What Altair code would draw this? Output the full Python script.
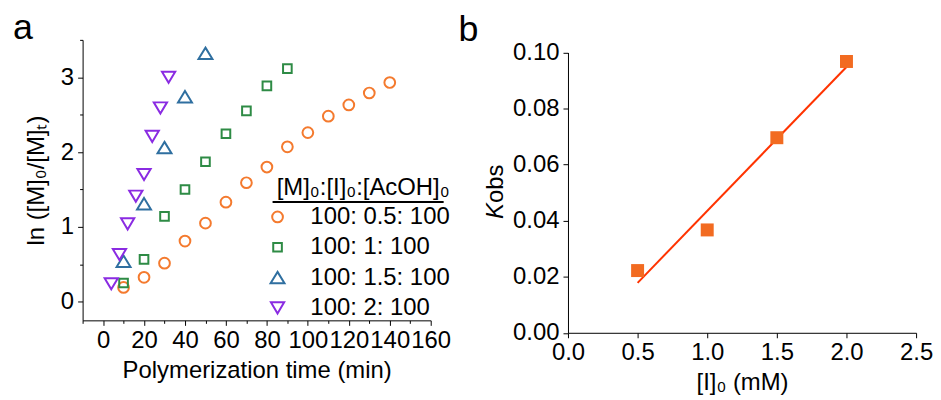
import altair as alt
import pandas as pd

FONT = "Liberation Sans"
FS = 24

# ---------- panel a data ----------
series_names = ["100: 0.5: 100", "100: 1: 100", "100: 1.5: 100", "100: 2: 100"]
series_colors = ["#F47A2E", "#2E8B45", "#2F6FA0", "#8A2BE2"]
# symbol outlines in the unit box [-1, 1] (circle, square, triangle up, triangle down)
series_shapes = [
    "M0.77,0A0.77,0.77 0 1,1 -0.77,0A0.77,0.77 0 1,1 0.77,0Z",
    "M-0.62,-0.62L0.62,-0.62L0.62,0.62L-0.62,0.62Z",
    "M0,-0.82L1,0.82L-1,0.82Z",
    "M0,0.8L0.95,-0.8L-0.95,-0.8Z",
]
SYMBOL_SIZE = 196

t_05 = [10, 20, 30, 40, 50, 60, 70, 80, 90, 100, 110, 120, 130, 140]
y_05 = [0.19, 0.325, 0.515, 0.81, 1.05, 1.33, 1.59, 1.80, 2.07, 2.26, 2.48, 2.63, 2.79, 2.93]
t_1 = [10, 20, 30, 40, 50, 60, 70, 80, 90]
y_1 = [0.25, 0.565, 1.14, 1.50, 1.87, 2.245, 2.55, 2.885, 3.115]
t_15 = [10, 20, 30, 40, 50]
y_15 = [0.54, 1.31, 2.06, 2.74, 3.32]
t_2 = [4, 8, 12, 16, 20, 24, 28, 32]
y_2 = [0.24, 0.63, 1.04, 1.41, 1.70, 2.21, 2.59, 3.00]

# ---------- panel b data ----------
conc_I0 = [0.5, 1.0, 1.5, 2.0]
k_obs = [0.0222, 0.0367, 0.0696, 0.0968]

rows = []
for name, ts, ys in zip(series_names, [t_05, t_1, t_15, t_2], [y_05, y_1, y_15, y_2]):
    for t, y in zip(ts, ys):
        rows.append({"time": t, "lnM": y, "series": name})
df_a = pd.DataFrame(rows)
df_b = pd.DataFrame({"I0": conc_I0, "kobs": k_obs})

def axis_common(**kw):
    base = dict(
        domainColor="black", domainWidth=1, tickColor="black", tickWidth=1,
        labelFont=FONT, labelFontSize=FS, labelColor="black",
        titleFont=FONT, titleFontSize=FS, titleFontWeight="normal", titleColor="black",
        grid=False, labelOverlap=False, labelBound=False, labelFlush=False,
    )
    base.update(kw)
    return alt.Axis(**base)

# ---------- panel a ----------
x_a = alt.X(
    "time:Q",
    scale=alt.Scale(domain=[-10, 160], nice=False, zero=False),
    axis=axis_common(
        title="Polymerization time (min)",
        values=list(range(-10, 161, 10)),
        labelExpr="datum.value % 20 == 0 ? format(datum.value, 'd') : ''",
        tickSize={"condition": {"test": "datum.value % 20 != 0", "value": 3}, "value": 5},
        labelPadding=3, titlePadding=6,
    ),
)
y_a = alt.Y(
    "lnM:Q",
    scale=alt.Scale(domain=[-0.25, 3.5], nice=False, zero=False),
    axis=axis_common(
        title="ln ([M]₀/[M]ₜ)",
        values=[0, 0.5, 1, 1.5, 2, 2.5, 3, 3.5],
        labelExpr="datum.value % 1 == 0 ? format(datum.value, 'd') : ''",
        tickSize={"condition": {"test": "datum.value % 1 != 0", "value": 3}, "value": 5},
        labelPadding=4, titlePadding=12,
    ),
)

points_a = alt.Chart(df_a).mark_point(
    filled=False, strokeWidth=2, opacity=1, size=SYMBOL_SIZE
).encode(
    x=x_a,
    y=y_a,
    color=alt.Color("series:N", scale=alt.Scale(domain=series_names, range=series_colors),
                    legend=alt.Legend(
                        orient="none", legendX=184, legendY=137,
                        title="[M]₀:[I]₀:[AcOH]₀", titleFont=FONT, titleFontSize=FS,
                        titleFontWeight="normal", titleColor="black", titleLimit=500,
                        titlePadding=5, titleAnchor="end",
                        labelFont=FONT, labelFontSize=FS, labelColor="black", labelLimit=500,
                        labelOffset=21, rowPadding=6.5, symbolStrokeWidth=2,
                        symbolSize=SYMBOL_SIZE,
                    )),
    shape=alt.Shape("series:N", scale=alt.Scale(domain=series_names, range=series_shapes)),
)

underline = alt.Chart(alt.Data(values=[{"u": 1}])).mark_rule(color="black", strokeWidth=2).encode(
    x=alt.value(191), x2=alt.value(363), y=alt.value(163)
)

label_a = alt.Chart(alt.Data(values=[{"lab": "a"}])).mark_text(
    align="left", baseline="alphabetic", font=FONT, fontSize=36, color="black"
).encode(text="lab:N", x=alt.value(-70), y=alt.value(-0.5))

panel_a = alt.layer(points_a, underline, label_a).properties(width=350, height=282)

# ---------- panel b ----------
x_b = alt.X(
    "I0:Q",
    scale=alt.Scale(domain=[0, 2.5], nice=False, zero=False),
    axis=axis_common(
        title="[I]₀ (mM)",
        values=[i * 0.25 for i in range(11)],
        labelExpr="round(datum.value * 4) % 2 == 0 ? format(datum.value, '.1f') : ''",
        tickSize={"condition": {"test": "round(datum.value * 4) % 2 == 1", "value": 3}, "value": 5},
        labelPadding=3, titlePadding=6,
    ),
)
y_b = alt.Y(
    "kobs:Q",
    scale=alt.Scale(domain=[0, 0.1], nice=False, zero=False, range=[294.5, 12.7]),
    axis=axis_common(
        title=None,
        values=[round(i * 0.01, 2) for i in range(11)],
        labelExpr="round(datum.value * 100) % 2 == 0 ? format(datum.value, '.2f') : ''",
        tickSize={"condition": {"test": "round(datum.value * 100) % 2 == 1", "value": 3}, "value": 5},
        labelPadding=4,
    ),
)

base_b = alt.Chart(df_b)
squares_b = base_b.mark_point(shape="square", filled=True, size=170, color="#F26B21", opacity=1).encode(
    x=x_b, y=y_b
)
fit_b = base_b.transform_regression("I0", "kobs", extent=[0.5, 2.0]).mark_line(
    color="#FF3300", strokeWidth=2
).encode(x="I0:Q", y="kobs:Q")

label_b = alt.Chart(alt.Data(values=[{"lab": "b"}])).mark_text(
    align="left", baseline="alphabetic", font=FONT, fontSize=36, color="black"
).encode(text="lab:N", x=alt.value(-110), y=alt.value(1))

# y-axis title "Kobs" with an italic K
ytitle_K = alt.Chart(alt.Data(values=[{"lab": "K"}])).mark_text(
    align="left", baseline="middle", font=FONT, fontSize=FS, fontStyle="italic",
    color="black", angle=270
).encode(text="lab:N", x=alt.value(-72), y=alt.value(180))
ytitle_obs = alt.Chart(alt.Data(values=[{"lab": "obs"}])).mark_text(
    align="left", baseline="middle", font=FONT, fontSize=FS,
    color="black", angle=270
).encode(text="lab:N", x=alt.value(-72), y=alt.value(164))

panel_b = alt.layer(fit_b, squares_b, label_b, ytitle_K, ytitle_obs).properties(width=350, height=294.5)

chart = alt.hconcat(panel_a, panel_b, spacing=7).configure_view(stroke=None).properties(
    padding={"left": 5, "top": 1, "right": 0, "bottom": 0}
)

chart.save("out.html", embed_options={"renderer": "svg", "actions": False})
